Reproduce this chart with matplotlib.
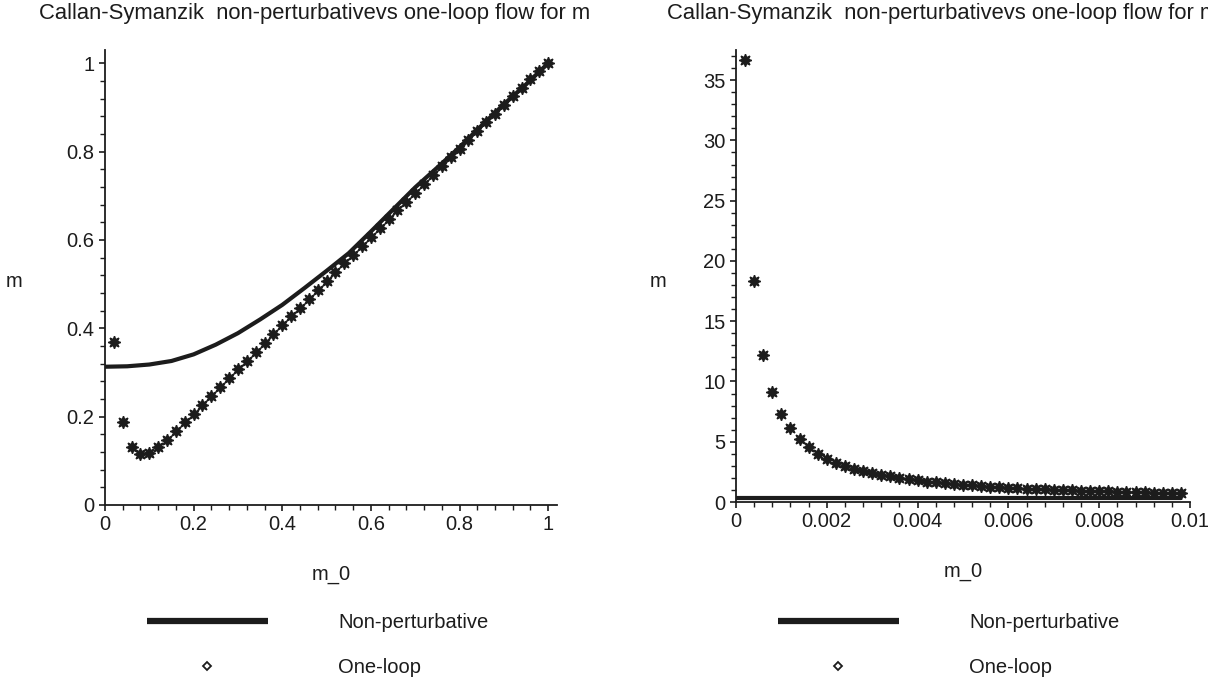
import numpy as np
import matplotlib
matplotlib.use("Agg")
import matplotlib.pyplot as plt
from matplotlib.lines import Line2D
from matplotlib.ticker import MultipleLocator

plt.rcParams['font.family'] = ['Liberation Sans', 'DejaVu Sans']

# left panel: m_0 in (0, 1]
m0_left = np.linspace(0.02, 1.0, 50)
oneloop_left = [0.369, 0.187, 0.132, 0.115, 0.117, 0.132, 0.147, 0.167, 0.187, 0.207,
                0.227, 0.247, 0.267, 0.287, 0.307, 0.327, 0.347, 0.367, 0.387, 0.407,
                0.427, 0.447, 0.467, 0.487, 0.507, 0.527, 0.547, 0.567, 0.587, 0.607,
                0.627, 0.647, 0.667, 0.687, 0.707, 0.727, 0.747, 0.767, 0.787, 0.806,
                0.826, 0.846, 0.866, 0.886, 0.905, 0.925, 0.945, 0.964, 0.982, 1.000]
np_left_x = [0, 0.05, 0.1, 0.15, 0.2, 0.25, 0.3, 0.35, 0.4, 0.45, 0.5,
             0.55, 0.6, 0.65, 0.7, 0.75, 0.8, 0.85, 0.9, 0.95, 1.0]
np_left_y = [0.313, 0.314, 0.318, 0.326, 0.341, 0.363, 0.389, 0.420, 0.453, 0.491, 0.530,
             0.570, 0.619, 0.669, 0.719, 0.764, 0.810, 0.859, 0.907, 0.952, 1.0]

# right panel: m_0 in (0, 0.01)
m0_right = np.linspace(0.0002, 0.0098, 49)
oneloop_right = [36.7, 18.3, 12.2, 9.1, 7.3, 6.1, 5.2, 4.6, 4.0, 3.6,
                 3.25, 2.98, 2.75, 2.55, 2.4, 2.25, 2.12, 2.0, 1.9, 1.8,
                 1.7, 1.63, 1.56, 1.49, 1.43, 1.38, 1.33, 1.28, 1.24, 1.2,
                 1.16, 1.12, 1.09, 1.06, 1.03, 1.0, 0.97, 0.95, 0.92, 0.9,
                 0.88, 0.86, 0.84, 0.82, 0.8, 0.78, 0.77, 0.75, 0.74]
np_right_x = [0, 0.002, 0.004, 0.006, 0.008, 0.0098]
np_right_y = [0.313, 0.313, 0.313, 0.313, 0.313, 0.313]

title = "Callan-Symanzik  non-perturbativevs one-loop flow for m"
W, H = 1208, 687
ink = '#1c1c1c'
fs = 14.5

fig = plt.figure(figsize=(W / 100, H / 100), dpi=100)

ax1 = fig.add_axes([105 / W, 1 - 505 / H, 452 / W, 455 / H])
ax2 = fig.add_axes([736 / W, 1 - 502 / H, 454 / W, 452 / H])

ax1.plot(np_left_x, np_left_y, color=ink, lw=3.0, solid_capstyle='butt')
ax1.plot(m0_left, oneloop_left, ls='none', marker=(8, 1, 0), ms=9, color=ink)
ax1.set_xlim(0, 1.02)
ax1.set_ylim(0, 1.03)
ax1.xaxis.set_minor_locator(MultipleLocator(0.04))
ax1.yaxis.set_minor_locator(MultipleLocator(0.04))
ax1.set_xticks([0, 0.2, 0.4, 0.6, 0.8, 1.0], ['0', '0.2', '0.4', '0.6', '0.8', '1'])
ax1.set_yticks([0, 0.2, 0.4, 0.6, 0.8, 1.0], ['0', '0.2', '0.4', '0.6', '0.8', '1'])

ax2.plot(np_right_x, np_right_y, color=ink, lw=3.0, solid_capstyle='butt')
ax2.plot(m0_right, oneloop_right, ls='none', marker=(8, 1, 0), ms=9, color=ink)
ax2.set_xlim(0, 0.01)
ax2.set_ylim(0, 37.5)
ax2.set_xticks([0, 0.002, 0.004, 0.006, 0.008, 0.01],
               ['0', '0.002', '0.004', '0.006', '0.008', '0.01'])
ax2.xaxis.set_minor_locator(MultipleLocator(0.0004))
ax2.set_yticks([0, 5, 10, 15, 20, 25, 30, 35])
ax2.yaxis.set_minor_locator(MultipleLocator(1))

label_x = [(ax1, -0.201, 0.47), (ax2, -0.172, 0.467)]
for ax, lx, ly in label_x:
    for s in ['top', 'right']:
        ax.spines[s].set_visible(False)
    for s in ['left', 'bottom']:
        ax.spines[s].set_linewidth(1.3)
        ax.spines[s].set_color(ink)
    ax.tick_params(which='major', direction='out', length=4.5, width=1.2,
                   labelsize=fs, colors=ink, pad=3)
    ax.tick_params(which='minor', direction='out', length=3.5, width=1.0, colors=ink)
    ax.set_xlabel('m_0', fontsize=fs, color=ink, labelpad=22)
    ax.set_ylabel('m', fontsize=fs, color=ink, rotation=0)
    ax.yaxis.set_label_coords(lx, ly)
    ax.patch.set_alpha(0)

# the reference runs the right-hand title off the page edge, kept that way
fig.text(39 / W, 1 - 13 / H, title, fontsize=15.8, color=ink, ha='left', va='center')
fig.text(667 / W, 1 - 13 / H, title, fontsize=15.8, color=ink, ha='left', va='center')

handles = [Line2D([], [], color=ink, lw=4.5, solid_capstyle='butt'),
           Line2D([], [], ls='none', marker='D', ms=4.5, mfc='white', mec=ink, mew=1.3)]
names = ['Non-perturbative', 'One-loop']
for hx in [147, 778]:
    fig.legend(handles, names, loc='upper left', bbox_to_anchor=(hx / W, 1 - 613 / H),
               bbox_transform=fig.transFigure, frameon=False, fontsize=fs,
               handlelength=6.0, handletextpad=3.5, labelspacing=1.3,
               borderpad=0, borderaxespad=0, labelcolor=ink)

fig.savefig('out.png', dpi=100)
